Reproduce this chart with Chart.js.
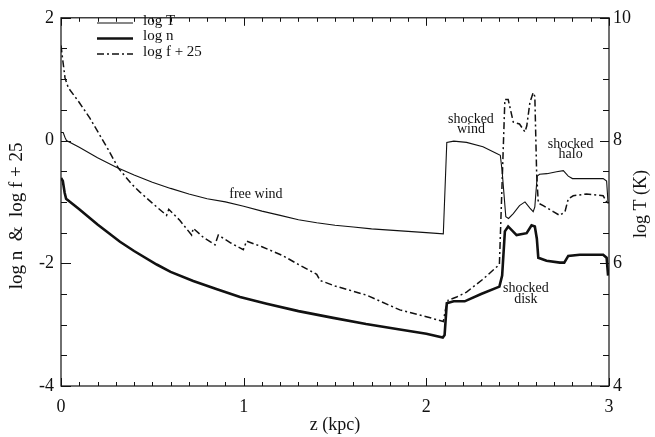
<!DOCTYPE html>
<html>
<head>
<meta charset="utf-8">
<script src="https://cdn.jsdelivr.net/npm/chart.js@4.4.1/dist/chart.umd.min.js"></script>
<style>
  html, body { margin: 0; padding: 0; background: #fff; }
  #wrap { width: 655px; height: 437px; }
</style>
</head>
<body>
<div id="wrap"><canvas id="windChart" width="655" height="437"></canvas></div>
<script>
// log T (right axis, K)
const tempX = [0, 0.012, 0.022, 0.03, 0.1, 0.2, 0.3, 0.4, 0.5, 0.6, 0.7, 0.8, 0.9, 1.0, 1.1, 1.2, 1.3, 1.4, 1.5, 1.6, 1.7, 1.8, 1.9, 2.0, 2.093, 2.112, 2.15, 2.22, 2.31, 2.385, 2.405, 2.415, 2.435, 2.45, 2.476, 2.51, 2.54, 2.567, 2.585, 2.594, 2.607, 2.62, 2.66, 2.713, 2.75, 2.777, 2.80, 2.877, 2.968, 2.987, 2.995];
const tempY = [8.13, 8.13, 8.05, 8.0, 7.89, 7.72, 7.57, 7.44, 7.32, 7.22, 7.13, 7.05, 7.0, 6.93, 6.85, 6.78, 6.71, 6.66, 6.62, 6.59, 6.56, 6.54, 6.52, 6.50, 6.48, 7.97, 7.99, 7.97, 7.90, 7.79, 7.76, 7.5, 6.76, 6.73, 6.81, 6.94, 7.0, 6.90, 6.84, 6.92, 7.42, 7.45, 7.46, 7.49, 7.51, 7.42, 7.38, 7.38, 7.38, 7.34, 6.97];

// log n (left axis)
const densX = [0, 0.01, 0.02, 0.028, 0.1, 0.2, 0.323, 0.4, 0.524, 0.6, 0.724, 0.85, 0.98, 1.126, 1.3, 1.49, 1.67, 1.855, 2.0, 2.09, 2.10, 2.112, 2.15, 2.21, 2.3, 2.40, 2.415, 2.43, 2.448, 2.494, 2.549, 2.576, 2.594, 2.605, 2.613, 2.658, 2.731, 2.755, 2.777, 2.84, 2.968, 2.987, 2.995];
const densY = [-0.61, -0.66, -0.85, -0.95, -1.12, -1.37, -1.65, -1.80, -2.02, -2.14, -2.29, -2.42, -2.55, -2.66, -2.78, -2.89, -2.99, -3.08, -3.15, -3.21, -3.17, -2.65, -2.62, -2.62, -2.50, -2.38, -2.2, -1.48, -1.40, -1.54, -1.51, -1.38, -1.40, -1.6, -1.91, -1.96, -1.99, -1.99, -1.88, -1.86, -1.86, -1.91, -2.2];

// log f + 25 (left axis)
const fluxX = [0, 0.008, 0.022, 0.04, 0.1, 0.159, 0.259, 0.314, 0.387, 0.432, 0.5, 0.578, 0.59, 0.65, 0.715, 0.724, 0.78, 0.843, 0.861, 0.93, 0.998, 1.016, 1.1, 1.217, 1.3, 1.40, 1.418, 1.5, 1.673, 1.855, 2.0, 2.093, 2.105, 2.12, 2.166, 2.22, 2.31, 2.40, 2.43, 2.448, 2.476, 2.51, 2.54, 2.55, 2.567, 2.585, 2.594, 2.604, 2.613, 2.64, 2.695, 2.73, 2.759, 2.777, 2.804, 2.877, 2.968, 2.987, 2.995];
const fluxY = [1.55, 1.35, 1.02, 0.86, 0.62, 0.36, -0.15, -0.45, -0.71, -0.84, -1.02, -1.22, -1.12, -1.30, -1.54, -1.43, -1.58, -1.70, -1.54, -1.67, -1.78, -1.64, -1.73, -1.88, -2.02, -2.18, -2.28, -2.37, -2.52, -2.76, -2.87, -2.95, -2.75, -2.60, -2.55, -2.47, -2.26, -2.02, 0.67, 0.67, 0.30, 0.27, 0.14, 0.24, 0.62, 0.78, 0.72, -0.55, -1.02, -1.06, -1.16, -1.22, -1.16, -0.95, -0.90, -0.87, -0.90, -1.0, -1.05];

const seriesLabels = ["log T", "log n", "log f + 25"];
const xTickLabels = ["0", "1", "2", "3"];

// region labels, placed in data coordinates (x kpc, left-axis y)
const notes = [
  { lines: ["free wind"], x: 1.067, y: -0.87 },
  { lines: ["shocked", "wind"], x: 2.244, y: 0.35 },
  { lines: ["shocked", "halo"], x: 2.79, y: -0.06 },
  { lines: ["shocked", "disk"], x: 2.545, y: -2.41 },
];

const SERIF = "'Liberation Serif', 'Times New Roman', serif";
const INK = "#111";

function pts(xs, ys) {
  return xs.map((x, i) => ({ x: x, y: ys[i] }));
}

// box, inward ticks on all four sides
const framePlugin = {
  id: "frame",
  afterDatasetsDraw(chart) {
    const { ctx, chartArea: a, scales } = chart;
    const sx = scales.x, sl = scales.y, sr = scales.y1;
    ctx.save();
    ctx.strokeStyle = INK;
    ctx.lineWidth = 1.2;
    ctx.strokeRect(a.left, a.top, a.right - a.left, a.bottom - a.top);
    ctx.lineWidth = 1;
    ctx.beginPath();
    for (let i = 0; i <= 30; i++) {
      const v = i / 10;
      const px = Math.round(sx.getPixelForValue(v)) + 0.5;
      const len = i % 10 === 0 ? 8 : 4;
      ctx.moveTo(px, a.bottom); ctx.lineTo(px, a.bottom - len);
      ctx.moveTo(px, a.top); ctx.lineTo(px, a.top + len);
    }
    for (let i = 0; i <= 12; i++) {
      const vl = -4 + i * 0.5;
      const pl = Math.round(sl.getPixelForValue(vl)) + 0.5;
      const ll = i % 4 === 0 ? 10 : 6;
      ctx.moveTo(a.left, pl); ctx.lineTo(a.left + ll, pl);
      const vr = 4 + i * 0.5;
      const pr = Math.round(sr.getPixelForValue(vr)) + 0.5;
      const lr = i % 4 === 0 ? 9 : 6;
      ctx.moveTo(a.right, pr); ctx.lineTo(a.right - lr, pr);
    }
    ctx.stroke();
    ctx.restore();
  },
};

// legend, region labels and the two vertical axis titles (both read bottom to top)
const notesPlugin = {
  id: "notes",
  afterDraw(chart) {
    const { ctx, scales, chartArea: a } = chart;
    ctx.save();
    ctx.fillStyle = INK;
    ctx.strokeStyle = INK;
    ctx.textBaseline = "middle";
    ctx.font = "15px " + SERIF;
    chart.data.datasets.forEach((ds, i) => {
      const y = 23 + i * 15.5;
      ctx.lineWidth = ds.borderWidth;
      ctx.setLineDash(ds.borderDash || []);
      ctx.beginPath();
      ctx.moveTo(97, y); ctx.lineTo(133, y);
      ctx.stroke();
      ctx.textAlign = "left";
      ctx.fillText(ds.label, 143, y - 2);
    });
    ctx.setLineDash([]);
    ctx.font = "14px " + SERIF;
    ctx.textAlign = "center";
    notes.forEach(n => {
      const px = scales.x.getPixelForValue(n.x);
      const py = scales.y.getPixelForValue(n.y);
      n.lines.forEach((t, j) => ctx.fillText(t, px, py + j * 10.5));
    });

    const midY = (a.top + a.bottom) / 2;
    ctx.font = "19px " + SERIF;
    ctx.save();
    ctx.translate(17, midY + 14);
    ctx.rotate(-Math.PI / 2);
    ctx.fillText("log n  &  log f + 25", 0, 0);
    ctx.restore();
    ctx.font = "18px " + SERIF;
    ctx.save();
    ctx.translate(641, midY + 2);
    ctx.rotate(-Math.PI / 2);
    ctx.fillText("log T (K)", 0, 0);
    ctx.restore();
    ctx.restore();
  },
};

const tickFont = { family: SERIF, size: 18 };
const titleFont = { family: SERIF, size: 18 };

new Chart(document.getElementById("windChart").getContext("2d"), {
  type: "line",
  data: {
    datasets: [
      {
        label: seriesLabels[0],
        data: pts(tempX, tempY),
        yAxisID: "y1",
        borderColor: INK,
        borderWidth: 1.1,
      },
      {
        label: seriesLabels[1],
        data: pts(densX, densY),
        yAxisID: "y",
        borderColor: INK,
        borderWidth: 2.6,
      },
      {
        label: seriesLabels[2],
        data: pts(fluxX, fluxY),
        yAxisID: "y",
        borderColor: INK,
        borderWidth: 1.5,
        borderDash: [7, 3, 2, 3],
      },
    ],
  },
  options: {
    responsive: false,
    animation: false,
    devicePixelRatio: 1,
    layout: { padding: { top: 10, left: 0, right: 0, bottom: 0 } },
    elements: { point: { radius: 0 }, line: { tension: 0, fill: false } },
    plugins: { legend: { display: false }, tooltip: { enabled: false } },
    scales: {
      x: {
        type: "linear",
        min: 0,
        max: 3,
        grid: { display: false, drawTicks: false },
        border: { display: false },
        ticks: {
          stepSize: 1,
          color: INK,
          font: tickFont,
          padding: 10,
          maxRotation: 0,
          callback: (v) => xTickLabels[v] !== undefined ? xTickLabels[v] : "",
        },
        title: { display: true, text: "z (kpc)", color: INK, font: titleFont, padding: { top: 0, bottom: 1 } },
        afterFit(s) { s.height = 51; },
      },
      y: {
        position: "left",
        min: -4,
        max: 2,
        grid: { display: false, drawTicks: false },
        border: { display: false },
        ticks: { stepSize: 2, color: INK, font: tickFont, padding: 7 },
        afterFit(s) { s.width = 61; },
      },
      y1: {
        position: "right",
        min: 4,
        max: 10,
        grid: { display: false, drawTicks: false },
        border: { display: false },
        ticks: { stepSize: 2, color: INK, font: tickFont, padding: 4 },
        afterFit(s) { s.width = 46; },
      },
    },
  },
  plugins: [framePlugin, notesPlugin],
});
</script>
</body>
</html>
